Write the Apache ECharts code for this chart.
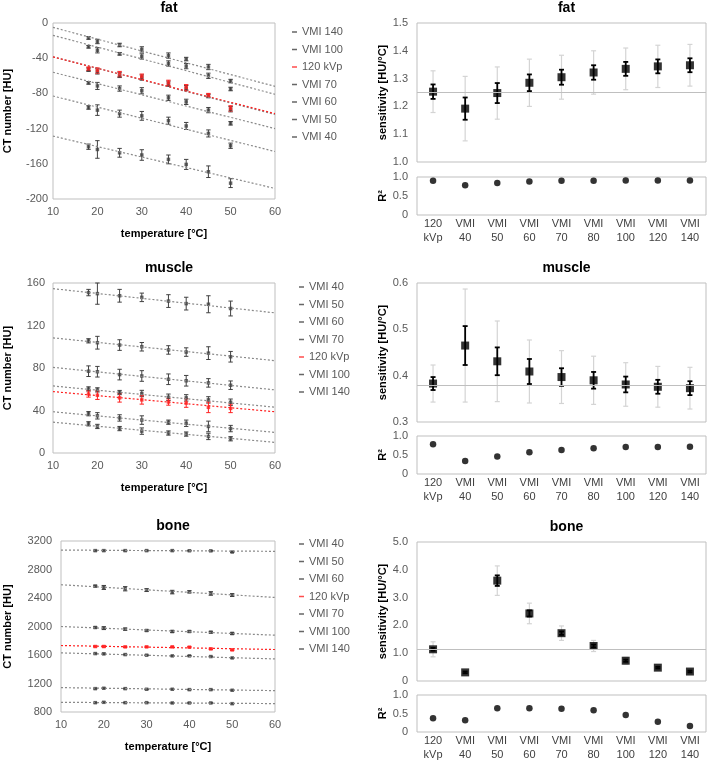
<!DOCTYPE html>
<html><head><meta charset="utf-8">
<script src="https://cdn.jsdelivr.net/npm/echarts@6/dist/echarts.min.js"></script>
<style>html,body{margin:0;padding:0;background:#fff}#c{width:708px;height:762px}</style>
</head><body><div id="c"></div>
<script>
// ---------- data ----------
const temps = [18, 20, 25, 30, 36, 40, 45, 50];
const tempTicks = [10, 60];

const fatNames = ['VMI 140', 'VMI 100', '120 kVp', 'VMI 70', 'VMI 60', 'VMI 50', 'VMI 40'];
const fatValues = [
  [-17, -21, -25, -30, -37, -41, -50, -66],
  [-27, -31, -35, -38, -46, -49, -60, -75],
  [-52, -54, -58, -61, -68, -73, -82, -97],
  [-53, -55, -59, -62, -69, -74, -83, -98],
  [-68, -71.5, -74.5, -77, -85, -89.6, -99, -114],
  [-96, -99, -103, -105.5, -111, -117, -125.5, -139.5],
  [-140.6, -143.7, -147.5, -150, -155, -160.7, -169, -182]
];
const fatErrors = [
  [1.5, 2.5, 2, 3, 3, 2, 3, 2],
  [1.5, 3, 1.5, 3, 3, 3, 3, 2],
  [2, 3, 3, 3, 3, 3, 2, 3],
  [2, 3, 3, 3, 3, 3, 2, 3],
  [1.5, 4, 3, 3.5, 3, 3, 3, 2],
  [2, 6, 4, 5, 4, 4, 4, 3],
  [3, 10, 5, 6, 5, 5.7, 6.6, 5]
];
const fatTrend = [[-5, -72], [-14, -81], [-38.5, -103], [-38.5, -104], [-56, -120], [-83, -146], [-128.5, -188]];

const muscleNames = ['VMI 40', 'VMI 50', 'VMI 60', 'VMI 70', '120 kVp', 'VMI 100', 'VMI 140'];
const muscleValues = [
  [151, 150, 148, 146.5, 143, 140.6, 140, 136],
  [105.6, 103.8, 101.6, 100, 97, 95, 94, 90.6],
  [77, 76.5, 73.8, 72.5, 69.4, 68, 66, 63.8],
  [60.3, 59.4, 56.9, 56, 52.5, 51.9, 50, 47.8],
  [55.6, 54.4, 51.9, 50, 48, 47, 43, 42],
  [37, 35, 33, 31, 29, 28, 25, 23],
  [27.5, 25, 23, 20.6, 18.8, 17.8, 15.6, 13.4]
];
const muscleErrors = [
  [3, 10, 6, 4, 6, 6, 8, 7],
  [2, 6, 5, 4, 4, 4, 6, 5],
  [5, 5, 5, 5, 5, 5, 4, 4],
  [2, 2, 2, 3, 3, 3, 3, 3],
  [3, 4, 4, 4, 3, 4, 5, 4],
  [2, 3, 3, 4, 2, 3, 5, 3],
  [2, 2, 2, 3, 2, 2, 3, 2]
];
const muscleTrend = [[154.7, 131.9], [108.4, 86.9], [80.6, 59.4], [63.1, 43.1], [57.8, 38.8], [38.8, 19.4], [29, 10]];

const boneNames = ['VMI 40', 'VMI 50', 'VMI 60', '120 kVp', 'VMI 70', 'VMI 100', 'VMI 140'];
const boneValues = [
  [3065, 3065, 3065, 3065, 3065, 3063, 3062, 3045],
  [2567, 2548, 2530, 2511, 2483, 2487, 2464, 2441],
  [1986, 1977, 1963, 1944, 1930, 1930, 1920, 1902],
  [1719, 1719, 1714, 1714, 1714, 1710, 1686, 1672],
  [1620, 1616, 1606, 1597, 1588, 1588, 1578, 1559],
  [1128, 1133, 1128, 1119, 1119, 1114, 1114, 1105],
  [931, 936, 931, 931, 927, 927, 927, 917]
];
const boneErrors = [
  [5, 5, 5, 5, 5, 5, 5, 5],
  [12, 28, 30, 20, 25, 15, 25, 20],
  [10, 20, 15, 10, 15, 10, 12, 15],
  [8, 10, 8, 8, 8, 8, 10, 10],
  [5, 10, 5, 5, 5, 5, 5, 5],
  [5, 5, 5, 5, 5, 5, 5, 5],
  [4, 4, 4, 4, 4, 4, 4, 4]
];
const boneTrend = [[3073, 3055], [2586, 2408], [2000, 1878], [1733, 1677], [1630, 1545], [1142, 1100], [936, 918]];

const protocols = ['120\nkVp', 'VMI\n40', 'VMI\n50', 'VMI\n60', 'VMI\n70', 'VMI\n80', 'VMI\n100', 'VMI\n120', 'VMI\n140'];

const fatSens = [1.253, 1.192, 1.248, 1.285, 1.305, 1.322, 1.335, 1.344, 1.348];
const fatSensErr = [0.026, 0.04, 0.036, 0.03, 0.027, 0.026, 0.025, 0.025, 0.025];
const fatSensCI = [0.075, 0.116, 0.094, 0.085, 0.079, 0.078, 0.075, 0.076, 0.075];
const fatR2 = [0.90, 0.78, 0.84, 0.88, 0.90, 0.90, 0.91, 0.91, 0.91];

const muscleSens = [0.383, 0.465, 0.431, 0.409, 0.397, 0.390, 0.381, 0.376, 0.373];
const muscleSensErr = [0.014, 0.042, 0.03, 0.027, 0.019, 0.018, 0.017, 0.015, 0.015];
const muscleSensCI = [0.04, 0.122, 0.087, 0.068, 0.057, 0.052, 0.047, 0.044, 0.045];
const muscleR2 = [0.78, 0.34, 0.46, 0.57, 0.63, 0.68, 0.71, 0.71, 0.72];

const boneSens = [1.14, 0.31, 3.61, 2.43, 1.72, 1.26, 0.73, 0.48, 0.34];
const boneSensErr = [0.05, 0.03, 0.19, 0.11, 0.06, 0.05, 0.04, 0.03, 0.03];
const boneSensCI = [0.27, 0.05, 0.53, 0.37, 0.26, 0.2, 0.12, 0.1, 0.08];
const boneR2 = [0.37, 0.32, 0.64, 0.64, 0.63, 0.59, 0.46, 0.28, 0.16];

// ---------- styling / layout ----------
const FONT = 'Liberation Sans, Arial, sans-serif';
const GRAY_TXT = '#595959';
const FRAME = '#bfbfbf';
const DARK = '#404040';
const RED = '#ff2020';

const leftPanels = [
  {key: 'fat', title: 'fat', names: fatNames, vals: fatValues, errs: fatErrors, trend: fatTrend,
   grid: {left: 53, top: 23, width: 222, height: 176}, y: {min: -200, max: 0, interval: 40},
   legendTop: 20, legendLeft: 287, nameGap: 40, lblMargin: 5},
  {key: 'muscle', title: 'muscle', names: muscleNames, vals: muscleValues, errs: muscleErrors, trend: muscleTrend,
   grid: {left: 53, top: 283, width: 222, height: 170}, y: {min: 0, max: 160, interval: 40},
   legendTop: 275, legendLeft: 294, nameGap: 40, lblMargin: 8},
  {key: 'bone', title: 'bone', names: boneNames, vals: boneValues, errs: boneErrors, trend: boneTrend,
   grid: {left: 61, top: 541, width: 214, height: 171}, y: {min: 800, max: 3200, interval: 400},
   legendTop: 532, legendLeft: 294, nameGap: 48, lblMargin: 9}
];

const rightPanels = [
  {title: 'fat', sens: fatSens, err: fatSensErr, ci: fatSensCI, r2: fatR2,
   sensGrid: {left: 417, top: 23, width: 289, height: 139}, r2Grid: {left: 417, top: 177, width: 289, height: 38},
   y: {min: 1.0, max: 1.5, interval: 0.1}},
  {title: 'muscle', sens: muscleSens, err: muscleSensErr, ci: muscleSensCI, r2: muscleR2,
   sensGrid: {left: 417, top: 283, width: 289, height: 139}, r2Grid: {left: 417, top: 436, width: 289, height: 38},
   y: {min: 0.3, max: 0.6, interval: 0.1}},
  {title: 'bone', sens: boneSens, err: boneSensErr, ci: boneSensCI, r2: boneR2,
   sensGrid: {left: 417, top: 542, width: 289, height: 139}, r2Grid: {left: 417, top: 695, width: 289, height: 38},
   y: {min: 0, max: 5, interval: 1}}
];

function errorBar(color, width, capHalf) {
  return function (params, api) {
    const x = api.value(0), y = api.value(1), e = api.value(2);
    const t = api.coord([x, y + e]);
    const b = api.coord([x, y - e]);
    const st = {stroke: color, lineWidth: width};
    return {type: 'group', children: [
      {type: 'line', shape: {x1: t[0], y1: t[1], x2: b[0], y2: b[1]}, style: st},
      {type: 'line', shape: {x1: t[0] - capHalf, y1: t[1], x2: t[0] + capHalf, y2: t[1]}, style: st},
      {type: 'line', shape: {x1: b[0] - capHalf, y1: b[1], x2: b[0] + capHalf, y2: b[1]}, style: st}
    ]};
  };
}

const fmt1 = v => (v === 0 ? '0' : v.toFixed(1));
const fmtInt = v => String(Math.round(v));

const grids = [], xAxes = [], yAxes = [], series = [], titles = [], legends = [];

leftPanels.forEach((p) => {
  const gi = grids.length;
  grids.push(Object.assign({show: true, borderColor: FRAME, borderWidth: 1, containLabel: false}, p.grid));
  xAxes.push({type: 'value', gridIndex: gi, min: tempTicks[0], max: tempTicks[1], interval: 10,
    splitLine: {show: false}, axisLine: {show: false}, axisTick: {show: false},
    axisLabel: {color: GRAY_TXT, fontSize: 11, fontFamily: FONT, margin: 7},
    name: 'temperature [°C]', nameLocation: 'middle', nameGap: 29,
    nameTextStyle: {color: '#000', fontSize: 11, fontWeight: 'bold', fontFamily: FONT}});
  yAxes.push({type: 'value', gridIndex: gi, min: p.y.min, max: p.y.max, interval: p.y.interval,
    splitLine: {show: false}, axisLine: {show: false}, axisTick: {show: false},
    axisLabel: {color: GRAY_TXT, fontSize: 11, fontFamily: FONT, margin: p.lblMargin, formatter: fmtInt},
    name: 'CT number [HU]', nameLocation: 'middle', nameGap: p.nameGap,
    nameTextStyle: {color: '#000', fontSize: 11, fontWeight: 'bold', fontFamily: FONT}});
  titles.push({text: p.title, left: p.grid.left + p.grid.width / 2, top: p.grid.top - 27, textAlign: 'center',
    textStyle: {fontSize: 14, fontWeight: 'bold', color: '#000', fontFamily: FONT}});

  const order = p.names.map((n, i) => i).sort((a, b) => (p.names[a] === '120 kVp') - (p.names[b] === '120 kVp'));
  order.forEach((i) => {
    const name = p.names[i];
    const isRed = name === '120 kVp';
    const col = isRed ? RED : DARK;
    const lineCol = isRed ? RED : '#8a8a8a';
    const sname = p.key + '|' + name;
    series.push({type: 'line', name: sname + '|trend', xAxisIndex: gi, yAxisIndex: gi,
      data: [[tempTicks[0], p.trend[i][0]], [tempTicks[1], p.trend[i][1]]],
      symbol: 'none', silent: true, lineStyle: {color: lineCol, width: 1.2, type: [2, 2]}});
    series.push({type: 'custom', name: sname + '|err', xAxisIndex: gi, yAxisIndex: gi,
      data: temps.map((t, k) => [t, p.vals[i][k], p.errs[i][k]]),
      renderItem: errorBar(col, 1, 2.2), silent: true});
    series.push({type: 'scatter', name: sname, xAxisIndex: gi, yAxisIndex: gi,
      data: temps.map((t, k) => [t, p.vals[i][k]]),
      symbol: 'rect', symbolSize: 3.5, itemStyle: {color: col}});
  });
  legends.push({orient: 'vertical', left: p.legendLeft, top: p.legendTop, icon: 'rect',
    itemWidth: 5, itemHeight: 1.5, itemGap: 3.5, selectedMode: false,
    data: p.names.map(n => p.key + '|' + n),
    formatter: n => n.split('|')[1],
    textStyle: {color: GRAY_TXT, fontSize: 11, fontFamily: FONT, lineHeight: 14}});
});

rightPanels.forEach((p) => {
  const gs = grids.length;
  grids.push(Object.assign({show: true, borderColor: FRAME, borderWidth: 1}, p.sensGrid));
  const gr = grids.length;
  grids.push(Object.assign({show: true, borderColor: FRAME, borderWidth: 1}, p.r2Grid));
  xAxes.push({type: 'category', gridIndex: gs, data: protocols,
    axisLine: {show: false}, axisTick: {show: false}, axisLabel: {show: false}, splitLine: {show: false}});
  xAxes.push({type: 'category', gridIndex: gr, data: protocols,
    axisLine: {show: false}, axisTick: {show: false}, splitLine: {show: false},
    axisLabel: {color: DARK, fontSize: 11, fontFamily: FONT, margin: 2, lineHeight: 14}});
  yAxes.push({type: 'value', gridIndex: gs, min: p.y.min, max: p.y.max, interval: p.y.interval,
    splitLine: {show: false}, axisLine: {show: false}, axisTick: {show: false},
    axisLabel: {color: GRAY_TXT, fontSize: 11, fontFamily: FONT, margin: 9, formatter: fmt1},
    name: 'sensitivity [HU/°C]', nameLocation: 'middle', nameGap: 29,
    nameTextStyle: {color: '#000', fontSize: 11, fontWeight: 'bold', fontFamily: FONT}});
  yAxes.push({type: 'value', gridIndex: gr, min: 0, max: 1, interval: 0.5,
    splitLine: {show: false}, axisLine: {show: false}, axisTick: {show: false},
    axisLabel: {color: GRAY_TXT, fontSize: 11, fontFamily: FONT, margin: 9, formatter: fmt1},
    name: 'R²', nameLocation: 'middle', nameGap: 29,
    nameTextStyle: {color: '#000', fontSize: 11, fontWeight: 'bold', fontFamily: FONT}});
  titles.push({text: p.title, left: p.sensGrid.left + p.sensGrid.width / 2, top: p.sensGrid.top - 27, textAlign: 'center',
    textStyle: {fontSize: 14, fontWeight: 'bold', color: '#000', fontFamily: FONT}});

  series.push({type: 'custom', xAxisIndex: gs, yAxisIndex: gs, silent: true,
    data: p.sens.map((v, k) => [k, v, p.ci[k]]), renderItem: errorBar('#d4d4d4', 1.2, 2.5)});
  series.push({type: 'custom', xAxisIndex: gs, yAxisIndex: gs, silent: true,
    data: p.sens.map((v, k) => [k, v, p.err[k]]), renderItem: errorBar('#000', 1.8, 2.5)});
  series.push({type: 'scatter', xAxisIndex: gs, yAxisIndex: gs,
    data: p.sens.map((v, k) => [k, v]), symbol: 'rect', symbolSize: 8, itemStyle: {color: '#000'},
    markLine: {silent: true, symbol: ['none', 'none'], label: {show: false},
      lineStyle: {color: FRAME, type: 'solid', width: 1}, data: [{yAxis: p.sens[0]}]}});
  series.push({type: 'scatter', xAxisIndex: gr, yAxisIndex: gr,
    data: p.r2.map((v, k) => [k, v]), symbol: 'circle', symbolSize: 6.5, itemStyle: {color: '#000'}});
});

const chart = echarts.init(document.getElementById('c'), null, {renderer: 'canvas'});
chart.setOption({
  animation: false,
  backgroundColor: '#fff',
  title: titles,
  legend: legends,
  grid: grids,
  xAxis: xAxes,
  yAxis: yAxes,
  series: series
});
</script></body></html>
